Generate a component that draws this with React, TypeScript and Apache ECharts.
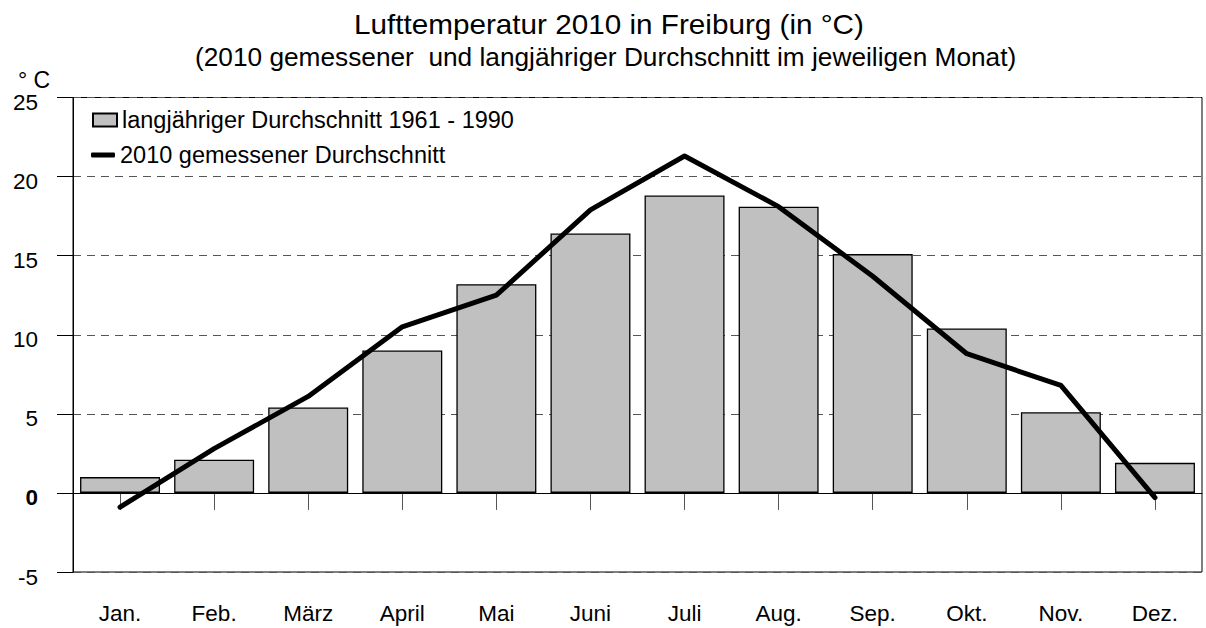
import React, { useEffect, useRef } from "react";
import * as echarts from "echarts";

const months = ["Jan.", "Feb.", "März", "April", "Mai", "Juni", "Juli", "Aug.", "Sep.", "Okt.", "Nov.", "Dez."];
const longTermAvg = [1.0, 2.1, 5.4, 9.0, 13.2, 16.4, 18.8, 18.1, 15.1, 10.4, 5.1, 1.9];
const measured2010 = [-0.9, 2.8, 6.1, 10.5, 12.5, 17.9, 21.3, 18.1, 13.7, 8.8, 6.8, -0.3];
const barName = "langjähriger Durchschnitt 1961 - 1990";
const lineName = "2010 gemessener Durchschnitt";
const titleText = "Lufttemperatur 2010 in Freiburg (in °C)";
const subtitleText = "(2010 gemessener  und langjähriger Durchschnitt im jeweiligen Monat)";
const unitText = "° C";

const FONT = "'Liberation Sans', Arial, Helvetica, sans-serif";

export default function App() {
  const ref = useRef<HTMLDivElement>(null);
  useEffect(() => {
    if (!ref.current) return;
    const chart = echarts.init(ref.current, null, { renderer: "svg" });
    chart.setOption({
      animation: false,
      backgroundColor: "#fff",
      textStyle: { fontFamily: FONT, color: "#000" },
      graphic: [
        {
          type: "text",
          x: 354,
          y: 24.5,
          scaleX: 1.06,
          style: { text: titleText, font: `28px ${FONT}`, fill: "#000", textAlign: "left", textVerticalAlign: "middle" },
        },
        {
          type: "text",
          x: 195,
          y: 57,
          scaleX: 1.05,
          style: { text: subtitleText, font: `25px ${FONT}`, fill: "#000", textAlign: "left", textVerticalAlign: "middle" },
        },
        {
          type: "text",
          x: 18,
          y: 80,
          style: { text: unitText, font: `23px ${FONT}`, fill: "#000", textAlign: "left", textVerticalAlign: "middle" },
        },
      ],
      legend: [
        {
          data: [{ name: barName, icon: "rect" }],
          left: 92,
          top: 108,
          padding: 0,
          itemWidth: 24,
          itemHeight: 13,
          textStyle: { fontSize: 23.5, color: "#000", fontFamily: FONT },
          selectedMode: false,
        },
        {
          data: [{ name: lineName, icon: "roundRect" }],
          left: 91,
          top: 143,
          padding: 0,
          itemWidth: 24,
          itemHeight: 5,
          itemStyle: { borderWidth: 0, color: "#000" },
          textStyle: { fontSize: 23.5, color: "#000", fontFamily: FONT },
          selectedMode: false,
        },
      ],
      grid: {
        left: 73,
        right: 4,
        top: 97.5,
        bottom: 56,
        show: true,
        borderColor: "#000",
        borderWidth: 1,
        backgroundColor: "transparent",
      },
      xAxis: {
        type: "category",
        data: months,
        boundaryGap: true,
        axisLine: { show: true, lineStyle: { color: "#000", width: 1 } },
        axisTick: { show: true, alignWithLabel: true, length: 17, lineStyle: { color: "#555", width: 1 } },
        axisLabel: { fontSize: 22.5, color: "#000", margin: 30, fontFamily: FONT },
        splitLine: { show: false },
      },
      yAxis: {
        type: "value",
        min: -5,
        max: 25,
        interval: 5,
        axisLine: { show: true, lineStyle: { color: "#000", width: 1 } },
        axisTick: { show: true, length: 16, lineStyle: { color: "#000", width: 1 } },
        axisLabel: {
          fontSize: 22.5,
          color: "#000",
          margin: 35,
          padding: [10, 0, 0, 0],
          fontFamily: FONT,
          formatter: (v: number) => (v === 0 ? "{b|0}" : String(v)),
          rich: { b: { fontWeight: "bold", fontSize: 22.5, color: "#000", fontFamily: FONT } },
        },
        splitLine: { show: true, lineStyle: { color: "#555", width: 1, type: [8, 6] } },
      },
      series: [
        {
          name: barName,
          type: "bar",
          data: longTermAvg,
          barCategoryGap: "15%",
          itemStyle: { color: "#c0c0c0", borderColor: "#000", borderWidth: 1.3 },
          markLine: {
            silent: true,
            symbol: "none",
            label: { show: false },
            lineStyle: { color: "#000", type: "solid", width: 1 },
            data: [{ yAxis: 0 }],
          },
          z: 2,
        },
        {
          name: lineName,
          type: "line",
          data: measured2010,
          symbol: "none",
          showSymbol: false,
          lineStyle: { color: "#000", width: 5, cap: "round", join: "round" },
          itemStyle: { color: "#000" },
          z: 5,
        },
      ],
    });
    return () => chart.dispose();
  }, []);
  return <div ref={ref} style={{ position: "fixed", left: 0, top: 0, width: 1206, height: 628 }} />;
}
